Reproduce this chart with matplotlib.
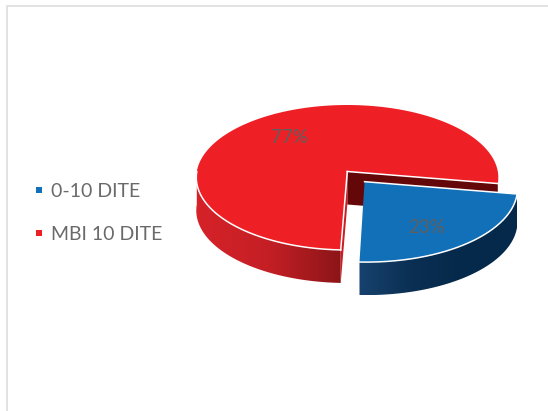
import numpy as np
import matplotlib
matplotlib.use("Agg")
import matplotlib.pyplot as plt
from matplotlib.colors import LinearSegmentedColormap
from matplotlib.lines import Line2D
from matplotlib.patches import Polygon

plt.rcParams["font.family"] = ["Lato", "DejaVu Sans"]

categories = ["0-10 DITE", "MBI 10 DITE"]
values = [23, 77]

BLUE = "#1170b8"
RED = "#ef1f26"
TEXT = "#5f5f5f"

# perspective of the tilted disc, in image pixels
CX, CY = 347.3, 171.5
SX, SY, K = 150.5, 57.8, 0.0828
DEPTH = 33
START = -9.5
EXPLODE = 0.18


def project(x, y):
    w = 1 + K * y
    return CX + SX * x / w, (CY - SY * y) / w


def rim(a1, a2, dx=0.0, dy=0.0, n=160):
    t = np.radians(np.linspace(a1, a2, n))
    px, py = project(np.cos(t) + dx, np.sin(t) + dy)
    return np.column_stack([px, py])


def gradient_wall(ax, pts, stops):
    poly = Polygon(pts, closed=True, fc="none", ec="none")
    ax.add_patch(poly)
    x0, x1 = pts[:, 0].min(), pts[:, 0].max()
    y0, y1 = pts[:, 1].min(), pts[:, 1].max()
    cmap = LinearSegmentedColormap.from_list("wall", stops)
    im = ax.imshow(np.linspace(0, 1, 256)[None, :], cmap=cmap, aspect="auto",
                   extent=[x0, x1, y1, y0], interpolation="bilinear")
    im.set_clip_path(poly)


fig = plt.figure(figsize=(5.48, 4.11), dpi=100)
ax = fig.add_axes([0, 0, 1, 1])

blue_sweep = 360 * values[0] / sum(values)
split = START - blue_sweep
mid_blue = np.radians(START - blue_sweep / 2)
mid_red = np.radians(split - (360 - blue_sweep) / 2)
ox, oy = EXPLODE * np.cos(mid_blue), EXPLODE * np.sin(mid_blue)
down = np.array([0, DEPTH])

# red slice: outer wall, the two cut faces, then the top
outer = rim(180, 360 + split)
gradient_wall(ax, np.vstack([outer, (outer + down)[::-1]]),
              ["#d62229", "#c41f25", "#8c1518"])

vertex = np.array(project(0, 0))
right_end = rim(START, START, n=1)[0]
front_end = rim(split, split, n=1)[0]
ax.add_patch(Polygon([vertex, right_end, right_end + down, vertex + down],
                     fc="#640708", ec="none"))
ax.add_patch(Polygon([vertex, front_end, front_end + down, vertex + down],
                     fc="#c81e24", ec="none"))
red_top = np.vstack([[vertex], rim(START, 360 + split)])
ax.add_patch(Polygon(red_top, fc=RED, ec="none"))
ax.plot(*rim(180, 360 + split).T, color="white", lw=1.1)
ax.plot(*np.array([vertex, front_end]).T, color="white", lw=1.1)
ax.plot(*np.array([vertex, right_end]).T, color="white", lw=1.1)

# blue slice, pulled out of the pie
blue_rim = rim(split, START, ox, oy)
gradient_wall(ax, np.vstack([blue_rim, (blue_rim + down)[::-1]]),
              ["#17426e", "#0a2f53", "#05294a", "#05294a"])
blue_vertex = np.array(project(ox, oy))
ax.add_patch(Polygon(np.vstack([[blue_vertex], blue_rim]), fc=BLUE, ec="none"))
ax.plot(*np.vstack([blue_vertex, blue_rim[-1]]).T, color="white", lw=1.1)
ax.plot(*blue_rim.T, color="white", lw=1.1)

# percent labels
lx, ly = project(0.64 * np.cos(mid_red), 0.64 * np.sin(mid_red))
ax.text(lx, ly, f"{values[1]}%", color=TEXT, fontsize=13.5, ha="center", va="center")
label_angle = mid_blue - np.radians(6)
lx, ly = project(ox + 0.70 * np.cos(label_angle), oy + 0.70 * np.sin(label_angle))
ax.text(lx, ly, f"{values[0]}%", color=TEXT, fontsize=13.5, ha="center", va="center")

handles = [Line2D([], [], ls="none", marker="s", ms=5, color=c, mew=0) for c in [BLUE, RED]]
ax.legend(handles, categories, loc="center left", bbox_to_anchor=(0.061, 0.482),
          frameon=False, fontsize=14, labelcolor="#6a6a6a", handlelength=0.55,
          handletextpad=0.36, labelspacing=1.3, borderpad=0, borderaxespad=0)

# chart frame
ax.plot([7, 7, 548], [411, 6.5, 6.5], color="#e2e2e2", lw=1.4)

ax.set_xlim(0, 548)
ax.set_ylim(411, 0)
ax.axis("off")
fig.savefig("out.png", dpi=100, facecolor="white")
plt.close(fig)
